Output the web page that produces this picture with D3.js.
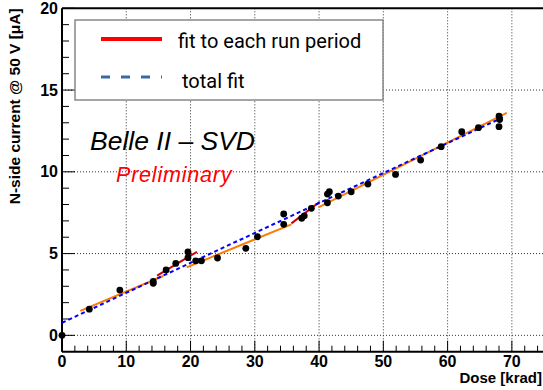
<!DOCTYPE html>
<html>
<head>
<meta charset="utf-8">
<script src="https://cdn.jsdelivr.net/npm/d3@7"></script>
<style>
  body { margin: 0; background: #fff; }
  svg { display: block; }
</style>
</head>
<body>
<script>
// measured points: dose [krad] vs N-side current [uA]
let dose = [0, 4.25, 9.0, 14.2, 14.2, 16.2, 17.7, 19.6, 19.6, 20.8, 21.7, 24.2, 28.6, 30.4,
            34.5, 34.5, 37.3, 37.7, 38.8, 41.3, 41.6, 41.3, 43.0, 45.0, 47.6, 51.9, 55.8,
            59.0, 62.2, 64.8, 68.0, 68.1, 68.0]
let current = [0, 1.6, 2.77, 3.18, 3.3, 4.0, 4.4, 5.1, 4.75, 4.56, 4.56, 4.73, 5.32, 6.03,
               7.42, 6.79, 7.16, 7.31, 7.77, 8.64, 8.78, 8.11, 8.52, 8.78, 9.25, 9.84, 10.72,
               11.54, 12.45, 12.7, 13.41, 13.2, 12.76]

// fits per run period: [x1, y1, x2, y2]
let orangeFits = [[2.85, 1.5, 15.75, 3.63], [19.4, 4.16, 35.7, 6.79], [39.9, 7.83, 69.2, 13.6]]
let redFits = [[14.8, 3.65, 21.0, 5.11], [35.7, 6.85, 40.1, 8.17]]
let totalFit = [0, 0.77, 68.6, 13.33]

let xTicks = [0, 10, 20, 30, 40, 50, 60, 70]
let yTicks = [0, 5, 10, 15, 20]

let W = 543, H = 390
let svg = d3.select("body").append("svg").attr("width", W).attr("height", H)

let x = d3.scaleLinear().domain([0, 75]).range([62, 544])
let y = d3.scaleLinear().domain([-1, 20]).range([351.7, 8.3])

let tickFont = "'Liberation Sans', Arial, sans-serif"

// dotted grid
let grid = svg.append("g")
grid.selectAll("line.gx").data(xTicks.filter(d => d > 0)).enter().append("line")
    .attr("x1", d => x(d)).attr("x2", d => x(d))
    .attr("y1", y(20)).attr("y2", y(-1))
    .attr("stroke", "#333").attr("stroke-width", 1).attr("stroke-dasharray", "1,2")
grid.selectAll("line.gy").data(yTicks.filter(d => d < 20)).enter().append("line")
    .attr("x1", x(0)).attr("x2", W)
    .attr("y1", d => y(d)).attr("y2", d => y(d))
    .attr("stroke", "#333").attr("stroke-width", 1).attr("stroke-dasharray", "1,2")

// axes, ticks drawn inwards like ROOT
let gy = svg.append("g").attr("transform", `translate(${x(0)},0)`)
gy.selectAll("line").data(d3.range(0, 21, 1)).enter().append("line")
    .attr("x1", 0).attr("x2", d => d % 5 == 0 ? 13 : 7)
    .attr("y1", d => y(d)).attr("y2", d => y(d))
    .attr("stroke", "#000").attr("stroke-width", 1)
gy.selectAll("text").data(yTicks).enter().append("text")
    .attr("x", -4).attr("y", d => y(d))
    .attr("text-anchor", "end").attr("dominant-baseline", "central")
    .attr("font-family", tickFont).attr("font-weight", "bold").attr("font-size", 16)
    .text(d => d)

let gx = svg.append("g").attr("transform", `translate(0,${y(-1)})`)
gx.selectAll("line").data(d3.range(2, 75, 2).concat([0])).enter().append("line")
    .attr("x1", d => x(d)).attr("x2", d => x(d))
    .attr("y1", 0).attr("y2", d => d % 10 == 0 ? -11 : -6)
    .attr("stroke", "#000").attr("stroke-width", 1)
gx.selectAll("text").data(xTicks).enter().append("text")
    .attr("x", d => x(d)).attr("y", 15.5)
    .attr("text-anchor", "middle")
    .attr("font-family", tickFont).attr("font-weight", "bold").attr("font-size", 16)
    .text(d => d)

// frame lines
svg.append("line").attr("x1", x(0)).attr("x2", x(0)).attr("y1", y(20)).attr("y2", y(-1))
    .attr("stroke", "#000").attr("stroke-width", 2)
svg.append("line").attr("x1", x(0)).attr("x2", W).attr("y1", y(-1)).attr("y2", y(-1))
    .attr("stroke", "#000").attr("stroke-width", 2)
svg.append("line").attr("x1", x(0)).attr("x2", W).attr("y1", y(20)).attr("y2", y(20))
    .attr("stroke", "#000").attr("stroke-width", 2)

// axis titles
svg.append("text")
    .attr("transform", `translate(20,${y(20)}) rotate(-90)`)
    .attr("text-anchor", "end")
    .attr("font-family", tickFont).attr("font-weight", "bold").attr("font-size", 15.5)
    .text("N-side current @ 50 V [\u03bcA]")
svg.append("text")
    .attr("x", 542).attr("y", 382.5).attr("text-anchor", "end")
    .attr("font-family", tickFont).attr("font-weight", "bold").attr("font-size", 15)
    .text("Dose [krad]")

// fit lines
let fits = svg.append("g")
fits.selectAll("line.orange").data(orangeFits).enter().append("line")
    .attr("x1", d => x(d[0])).attr("y1", d => y(d[1]))
    .attr("x2", d => x(d[2])).attr("y2", d => y(d[3]))
    .attr("stroke", "#ff7a00").attr("stroke-width", 2)
fits.selectAll("line.red").data(redFits).enter().append("line")
    .attr("x1", d => x(d[0])).attr("y1", d => y(d[1]))
    .attr("x2", d => x(d[2])).attr("y2", d => y(d[3]))
    .attr("stroke", "#cc0000").attr("stroke-width", 2)
fits.append("line")
    .attr("x1", x(totalFit[0])).attr("y1", y(totalFit[1]))
    .attr("x2", x(totalFit[2])).attr("y2", y(totalFit[3]))
    .attr("stroke", "#0000ff").attr("stroke-width", 2).attr("stroke-dasharray", "4,3")

// points
svg.append("g").selectAll("circle").data(dose).enter().append("circle")
    .attr("cx", d => x(d)).attr("cy", (d, i) => y(current[i]))
    .attr("r", 3.4).attr("fill", "#000")

// legend
let legend = svg.append("g")
legend.append("rect").attr("x", 75).attr("y", 20).attr("width", 308).attr("height", 80)
    .attr("fill", "#fff").attr("stroke", "#888").attr("stroke-width", 1.5)
legend.append("line").attr("x1", 101).attr("x2", 162).attr("y1", 39).attr("y2", 39)
    .attr("stroke", "#ff0000").attr("stroke-width", 4)
legend.append("line").attr("x1", 101).attr("x2", 162).attr("y1", 77).attr("y2", 77)
    .attr("stroke", "#3a6aa5").attr("stroke-width", 3).attr("stroke-dasharray", "9,11")
legend.append("text").attr("x", 178).attr("y", 48)
    .attr("font-family", "Roboto, sans-serif").attr("font-size", 20)
    .text("fit to each run period")
legend.append("text").attr("x", 182).attr("y", 88)
    .attr("font-family", "Roboto, sans-serif").attr("font-size", 20)
    .text("total fit")

// labels
svg.append("text").attr("x", 90).attr("y", 150)
    .attr("font-family", "'Liberation Sans', sans-serif").attr("font-style", "italic").attr("font-size", 26.5)
    .text("Belle II \u2013 SVD")
svg.append("text").attr("x", 116).attr("y", 182)
    .attr("font-family", "'Liberation Sans', sans-serif").attr("font-style", "italic").attr("font-size", 21.5)
    .attr("letter-spacing", 0.8).attr("fill", "#ff0000")
    .text("Preliminary")
</script>
</body>
</html>
